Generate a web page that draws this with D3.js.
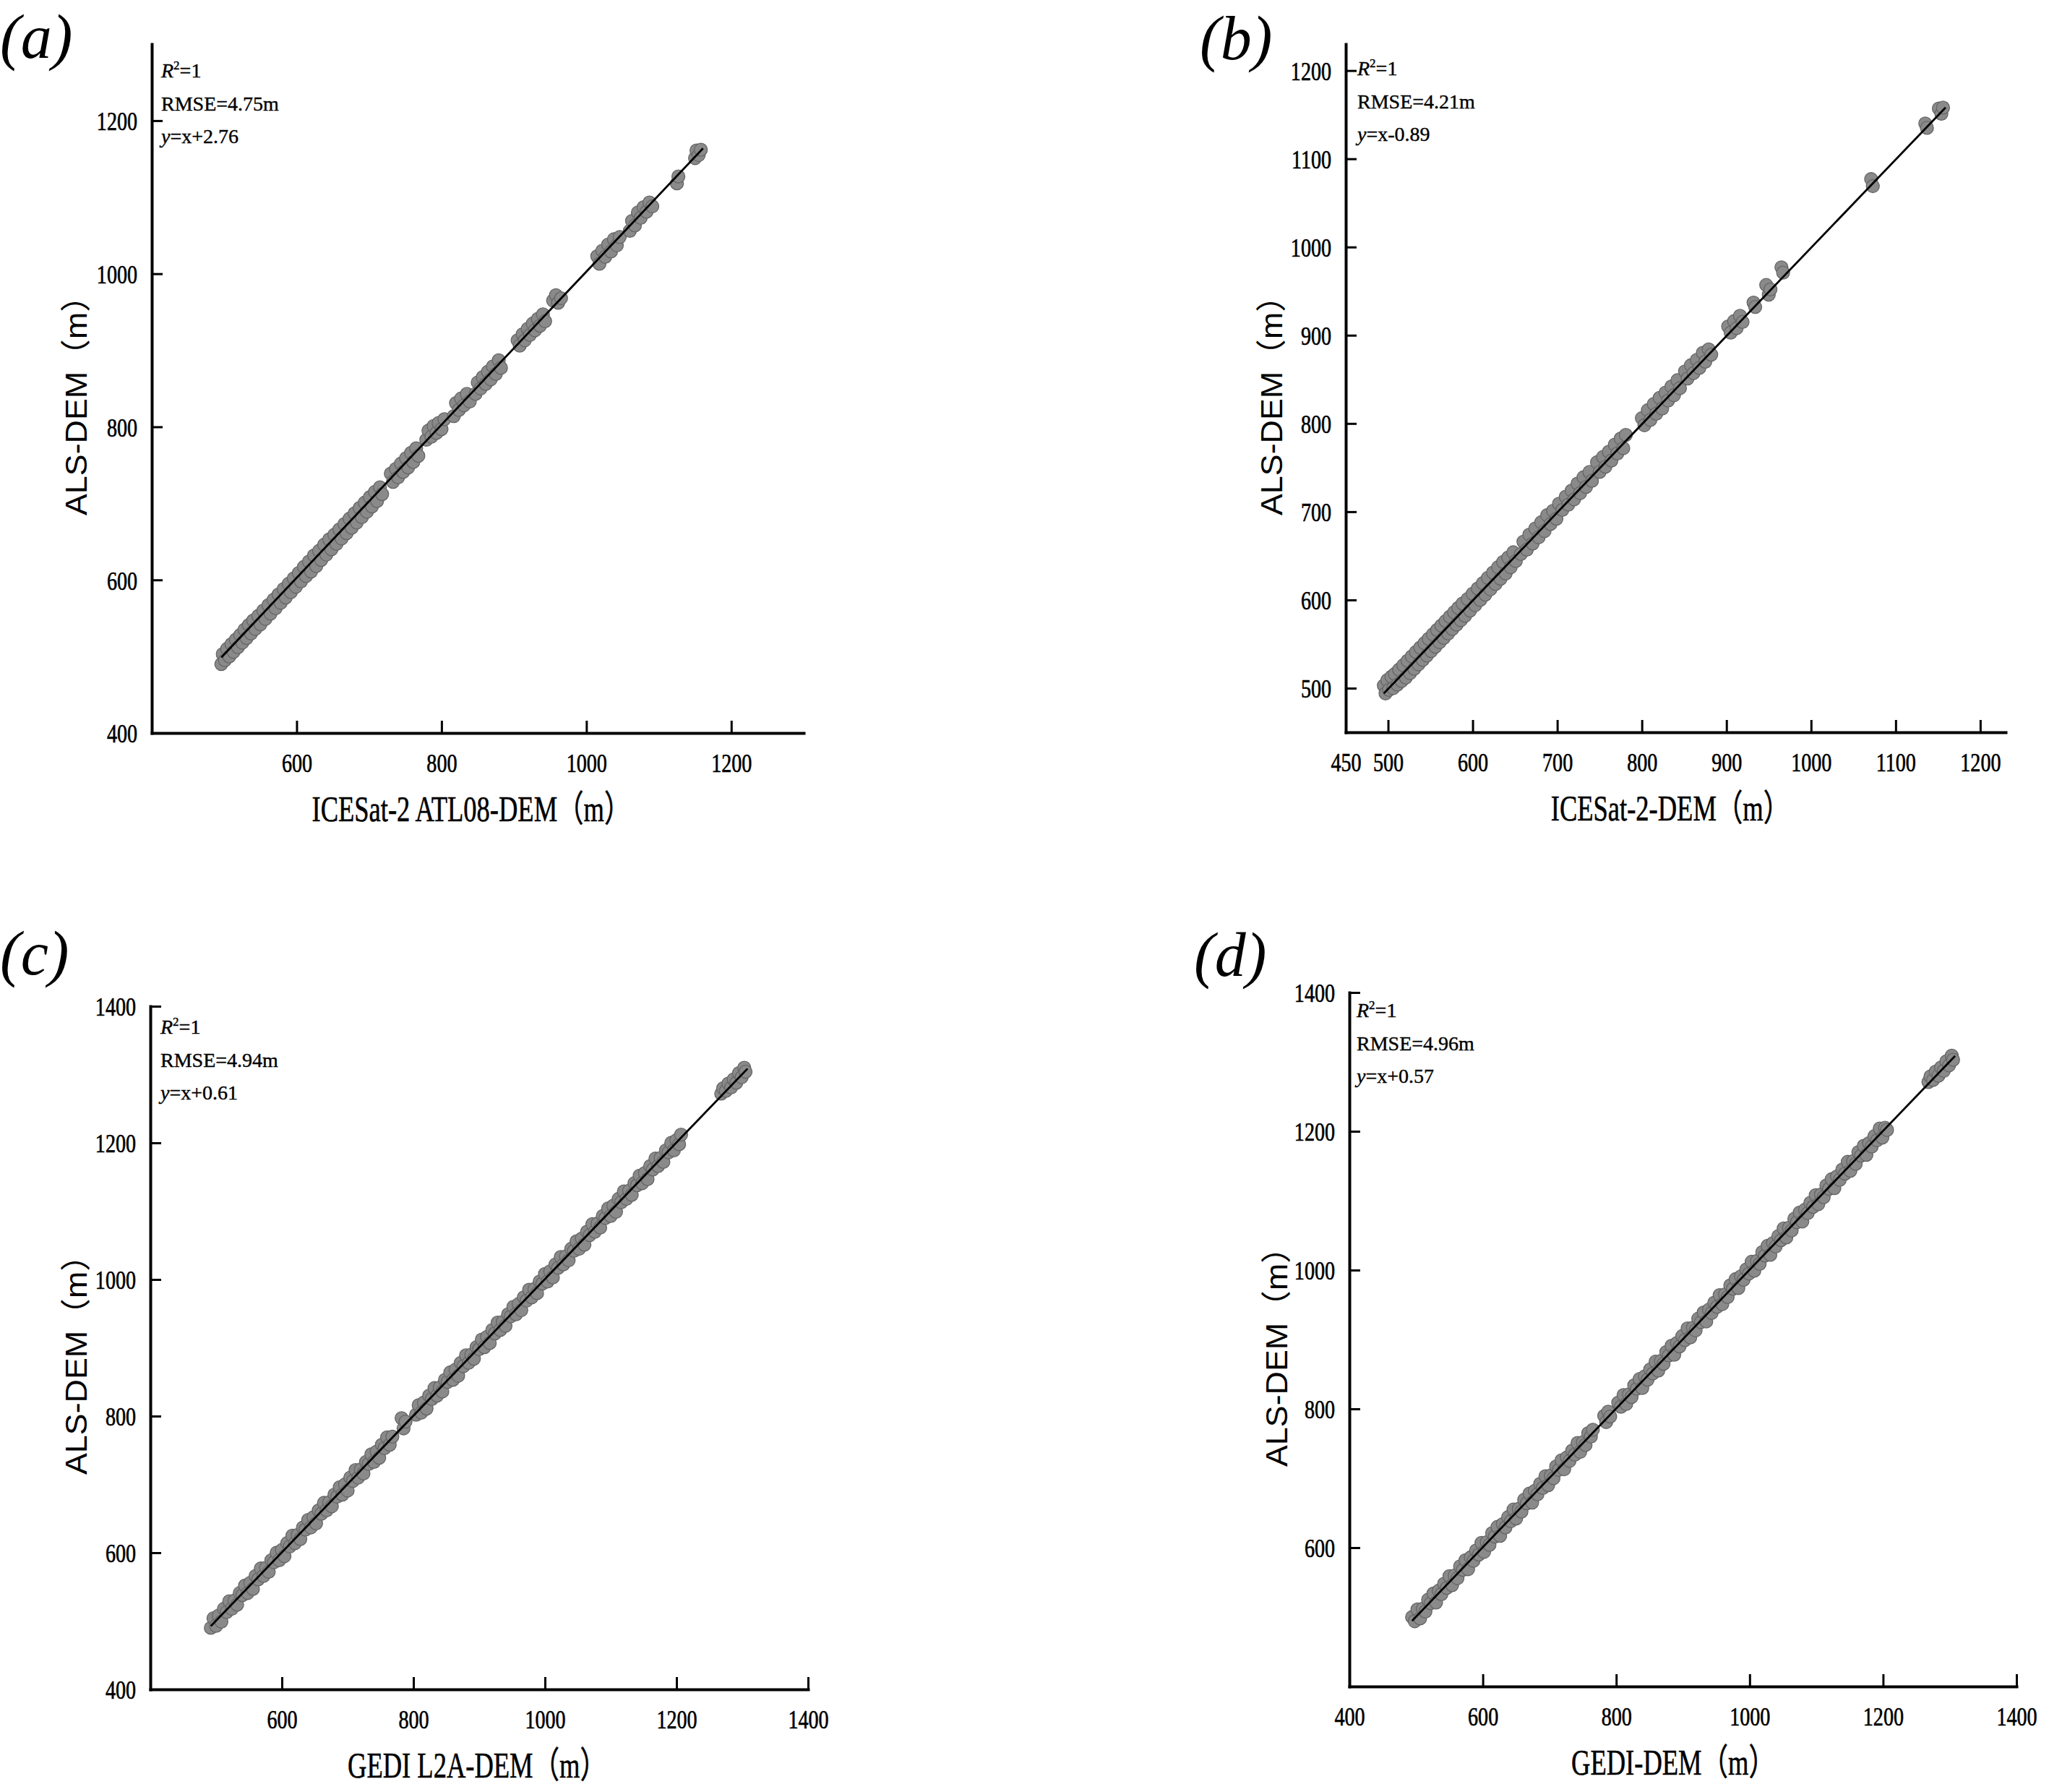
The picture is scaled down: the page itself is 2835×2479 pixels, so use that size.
<!DOCTYPE html>
<html><head><meta charset="utf-8">
<script src="https://cdn.jsdelivr.net/npm/d3@7/dist/d3.min.js"></script>
<style>body{margin:0;background:#fff}</style>
</head><body>
<svg id="chart" width="2835" height="2479"></svg>
<script>
// ---------- DATA ----------
const panelTags = ["(a)", "(b)", "(c)", "(d)"];
const xTitles = ["ICESat-2 ATL08-DEM（m）", "ICESat-2-DEM（m）", "GEDI L2A-DEM（m）", "GEDI-DEM（m）"];
const yTitles = ["ALS-DEM（m）", "ALS-DEM（m）", "ALS-DEM（m）", "ALS-DEM（m）"];
const r2Values = ["1", "1", "1", "1"];
const rmseValues = ["4.75", "4.21", "4.94", "4.96"];
const intercepts = [2.76, -0.89, 0.61, 0.57];

const aDomain = [400, 1300];
const bDomain = [450, 1230];
const cDomain = [400, 1400];
const dDomain = [400, 1400];

const aXTicks = [600, 800, 1000, 1200];
const aYTicks = [400, 600, 800, 1000, 1200];
const bXTicks = [450, 500, 600, 700, 800, 900, 1000, 1100, 1200];
const bYTicks = [500, 600, 700, 800, 900, 1000, 1100, 1200];
const cXTicks = [600, 800, 1000, 1200, 1400];
const cYTicks = [400, 600, 800, 1000, 1200, 1400];
const dXTicks = [400, 600, 800, 1000, 1200, 1400];
const dYTicks = [600, 800, 1000, 1200, 1400];

// [ICESat-2 / GEDI value, ALS value]
const aPoints = [[496,490],[498,503],[501,495],[504,510],[507,500],[510,516],[513,506],[516,522],[519,512],[522,528],[525,518],[528,535],[531,524],[534,541],[537,530],[540,547],[543,536],[547,553],[550,542],[554,560],[557,549],[561,567],[564,556],[568,574],[571,563],[575,581],[578,570],[582,588],[585,577],[589,595],[592,584],[596,602],[599,591],[603,609],[606,598],[610,617],[613,605],[617,624],[620,611],[624,632],[627,618],[631,638],[634,626],[638,646],[641,633],[645,653],[648,640],[652,659],[655,647],[659,666],[662,654],[666,673],[669,661],[673,680],[676,668],[680,687],[683,675],[687,694],[690,682],[694,701],[697,689],[701,708],[704,696],[708,715],[711,703],[715,721],[718,712],
[730,739],[733,728],[737,745],[740,734],[744,752],[747,741],[751,759],[754,747],[758,766],[761,754],[765,772],[768,762],
[779,783],[782,795],[786,787],[789,801],[793,792],[796,805],[800,797],[804,810],
[817,814],[820,831],[824,822],[827,837],[831,828],[835,843],[839,833],
[847,843],[850,858],[854,850],[857,865],[861,856],[864,872],[868,862],[871,879],[875,869],[879,887],[882,877],
[905,913],[908,906],[912,921],[915,913],[919,928],[922,920],[926,935],[929,926],[933,941],[936,932],[940,947],[943,938],
[954,965],[958,972],[961,962],[965,968],
[1015,1023],[1018,1013],[1022,1030],[1026,1022],[1030,1038],[1034,1029],[1038,1045],[1042,1037],[1046,1048],
[1060,1056],[1063,1069],[1067,1063],[1071,1080],[1075,1073],[1079,1087],[1083,1081],[1087,1093],[1091,1088],
[1125,1118],[1127,1127],[1150,1151],[1152,1161],[1155,1155],[1158,1162]];

const bPoints = [[495,503],[497,494],[499,509],[501,498],[504,513],[506,500],[508,516],[511,504],[513,521],[516,508],[518,526],[521,512],[523,531],[526,517],[528,536],[531,522],[533,541],[536,527],[538,546],[541,532],[543,551],[546,537],[548,556],[551,542],[553,561],[556,547],[558,566],[561,552],[563,571],[566,557],[568,576],[571,562],[573,581],[576,567],[578,586],[581,572],[583,591],[586,577],[588,596],[591,582],[594,601],[597,588],[600,607],[603,594],[606,613],[609,600],[612,619],[615,606],[618,625],[621,612],[624,631],[627,618],[630,637],[633,624],[636,643],[639,630],[642,648],[645,637],[648,654],[651,644],
[657,652],[660,666],[664,657],[667,674],[671,664],[674,681],[678,671],[681,688],[685,678],[688,696],[692,686],[695,701],[699,692],[702,709],
[706,702],[710,717],[713,708],[717,724],[720,714],[724,732],[727,721],[731,739],[734,728],[738,745],[741,735],
[747,756],[750,745],[754,762],[757,751],[761,768],[764,758],[768,776],[771,766],[775,783],[778,772],[781,787],
[800,806],[803,798],[807,815],[810,804],[814,822],[817,811],[821,829],[824,817],[828,835],[831,826],[835,842],[838,832],[842,849],[845,840],
[851,859],[854,851],[858,866],[861,857],[865,872],[868,863],[872,880],[875,870],[879,884],[882,878],
[902,910],[905,903],[909,916],[912,908],[916,922],[919,915],
[932,937],[934,932],[947,957],[950,946],[952,952],[965,977],[967,971],
[1071,1077],[1073,1069],[1135,1140],[1137,1135],[1151,1157],[1154,1151],[1156,1158]];

const cPoints = [[492,490],[496,504],[500,493],[504,508],[508,499],[512,518],[516,513],[520,529],[524,518],[528,530],[532,524],[536,541],[540,538],[544,552],[548,541],[552,556],[556,547],[560,566],[564,561],[568,577],[572,566],[576,578],[580,572],[584,589],[588,586],[592,600],[596,589],[600,604],[604,595],[608,614],[612,609],[616,625],[620,614],[624,626],[628,620],[632,637],[636,634],[640,648],[644,637],[648,652],[652,643],[656,662],[660,657],[664,673],[668,662],[672,674],[676,668],[680,685],[684,682],[688,696],[692,685],[696,700],[700,691],[704,710],[708,705],[712,721],[716,710],[720,722],[724,716],[728,733],[732,730],[736,744],[740,733],[744,748],[748,739],[752,758],[756,753],[760,769],[764,758],[768,770],
[782,797],[785,782],[788,792],
[804,802],[808,816],[812,805],[816,820],[820,811],[824,830],[828,825],[832,841],[836,830],[840,842],[844,836],[848,853],[852,850],[856,864],[860,853],[864,868],[868,859],[872,878],[876,873],[880,889],[884,878],[888,890],[892,884],[896,901],[900,898],[904,912],[908,901],[912,916],[916,907],[920,926],[924,921],[928,937],[932,926],[936,938],[940,932],[944,949],[948,946],[952,960],[956,949],[960,964],[964,955],[968,974],[972,969],[976,985],[980,974],[984,986],[988,980],[992,997],[996,994],[1000,1008],[1004,997],[1008,1012],[1012,1003],[1016,1022],[1020,1017],[1024,1033],[1028,1022],[1032,1034],[1036,1028],[1040,1045],[1044,1042],[1048,1056],[1052,1045],[1056,1060],[1060,1051],[1064,1070],[1068,1065],[1072,1081],[1076,1070],[1080,1082],[1084,1076],[1088,1093],[1092,1090],[1096,1104],[1100,1093],[1104,1108],[1108,1099],[1112,1118],[1116,1113],[1120,1129],[1124,1118],[1128,1130],[1132,1124],[1136,1141],[1140,1138],[1144,1152],[1148,1141],[1152,1156],[1156,1147],[1160,1166],[1164,1161],[1168,1177],[1172,1166],[1176,1178],[1180,1172],[1184,1189],[1188,1186],[1192,1200],[1196,1189],[1200,1204],[1204,1198],[1207,1212],
[1268,1272],[1271,1280],[1275,1276],[1279,1287],[1283,1281],[1287,1293],[1291,1288],[1295,1302],[1299,1296],[1303,1310],[1305,1304]];

const dPoints = [[494,500],[498,494],[502,511],[506,498],[510,512],[514,508],[518,525],[522,520],[526,534],[530,521],[534,538],[538,533],[542,548],[546,542],[550,559],[554,546],[558,560],[562,556],[566,573],[570,568],[574,582],[578,569],[582,586],[586,581],[590,596],[594,590],[598,607],[602,594],[606,608],[610,604],[614,621],[618,616],[622,630],[626,617],[630,634],[634,629],[638,644],[642,638],[646,655],[650,642],[654,656],[658,652],[662,669],[666,664],[670,678],[674,665],[678,682],[682,677],[686,692],[690,686],[694,703],[698,690],[702,704],[706,700],[710,717],[714,712],[718,726],[722,713],[726,730],[730,725],[734,740],[738,734],[742,751],[746,738],[750,752],[754,748],[758,765],[762,760],[765,770],
[782,790],[785,781],[788,796],[791,789],
[803,809],[807,803],[811,820],[815,807],[819,821],[823,817],[827,834],[831,829],[835,843],[839,830],[843,847],[847,842],[851,857],[855,851],[859,868],[863,855],[867,869],[871,865],[875,882],[879,877],[883,891],[887,878],[891,895],[895,890],[899,905],[903,899],[907,916],[911,903],[915,917],[919,913],[923,930],[927,925],[931,939],[935,926],[939,943],[943,938],[947,953],[951,947],[955,964],[959,951],[963,965],[967,961],[971,978],[975,973],[979,987],[983,974],[987,991],[991,986],[995,1001],[999,995],[1003,1012],[1007,999],[1011,1013],[1015,1009],[1019,1026],[1023,1021],[1027,1035],[1031,1022],[1035,1039],[1039,1034],[1043,1049],[1047,1043],[1051,1060],[1055,1047],[1059,1061],[1063,1057],[1067,1074],[1071,1069],[1075,1083],[1079,1070],[1083,1087],[1087,1082],[1091,1097],[1095,1091],[1099,1108],[1103,1095],[1107,1109],[1111,1105],[1115,1122],[1119,1117],[1123,1131],[1127,1118],[1131,1135],[1135,1130],[1139,1145],[1143,1139],[1147,1156],[1151,1143],[1155,1157],[1159,1153],[1163,1170],[1167,1165],[1171,1179],[1175,1166],[1179,1183],[1183,1178],[1187,1193],[1191,1187],[1195,1204],[1199,1191],[1203,1205],[1206,1202],
[1268,1271],[1271,1279],[1275,1274],[1279,1286],[1283,1280],[1287,1292],[1291,1287],[1295,1301],[1299,1295],[1303,1309],[1305,1303]];

// ---------- LAYOUT ----------
const layout = [
  {pts:aPoints, dom:aDomain, xt:aXTicks, yt:aYTicks, L:210, R:1112, T:61, B:1014, tag:[0,80], ann:[223,107], yl:[105,550], xl:[652,1136]},
  {pts:bPoints, dom:bDomain, xt:bXTicks, yt:bYTicks, L:1862, R:2775, T:61, B:1013, tag:[1660,82], ann:[1878,104], yl:[1759,550], xl:[2311,1135]},
  {pts:cPoints, dom:cDomain, xt:cXTicks, yt:cYTicks, L:208, R:1118, T:1392, B:2337, tag:[0,1348], ann:[222,1430], yl:[105,1877], xl:[660,2459]},
  {pts:dPoints, dom:dDomain, xt:dXTicks, yt:dYTicks, L:1867, R:2790, T:1373, B:2333, tag:[1652,1350], ann:[1877,1407], yl:[1766,1866], xl:[2315,2455]}
];

const SERIF = "'Liberation Serif','Times New Roman','Noto Sans CJK SC',serif";
const SANS = "'Liberation Sans',Arial,'Noto Sans CJK SC',sans-serif";

const svg = d3.select("#chart");
svg.append("rect").attr("width", 2835).attr("height", 2479).attr("fill", "#fff");

layout.forEach((p, i) => {
  const x = d3.scaleLinear().domain(p.dom).range([p.L, p.R]);
  const y = d3.scaleLinear().domain(p.dom).range([p.B, p.T]);
  const g = svg.append("g");

  // points
  g.append("g").selectAll("circle").data(p.pts).join("circle")
    .attr("cx", d => x(d[0])).attr("cy", d => y(d[1])).attr("r", 9)
    .attr("fill", "#8a8a8a").attr("stroke", "#666").attr("stroke-width", 1.3);

  // regression line y = x + b
  const xs = d3.extent(p.pts, d => d[0]);
  const b = intercepts[i];
  g.append("line")
    .attr("x1", x(xs[0])).attr("y1", y(xs[0] + b))
    .attr("x2", x(xs[1] + 3)).attr("y2", y(xs[1] + 3 + b))
    .attr("stroke", "#000").attr("stroke-width", 2.8);

  // axes
  const xa = g.append("g").attr("transform", `translate(0,${p.B})`)
    .call(d3.axisBottom(x).tickValues(p.xt).tickSizeInner(-17).tickSizeOuter(0).tickPadding(28).tickFormat(d3.format("d")));
  const ya = g.append("g").attr("transform", `translate(${p.L},0)`)
    .call(d3.axisLeft(y).tickValues(p.yt).tickSizeInner(-15).tickSizeOuter(0).tickPadding(20).tickFormat(d3.format("d")));
  [xa, ya].forEach(a => {
    a.select(".domain").attr("stroke", "#000").attr("stroke-width", 4).attr("stroke-linecap", "square");
    a.selectAll(".tick line").attr("stroke", "#000").attr("stroke-width", 3);
    a.selectAll(".tick text").attr("fill", "#000").attr("stroke", "#000").attr("stroke-width", 0.7)
      .attr("font-family", SERIF).attr("font-size", 36).classed("cond78", true);
  });
  ya.selectAll(".tick text").attr("dy", "0.36em");

  // panel tag
  svg.append("text").attr("x", p.tag[0]).attr("y", p.tag[1])
    .attr("font-family", SERIF).attr("font-style", "italic").attr("font-size", 86).attr("fill", "#000")
    .text(panelTags[i]);

  // annotation
  const ax = p.ann[0], ay = p.ann[1];
  const t1 = svg.append("text").attr("x", ax).attr("y", ay).attr("font-family", SERIF).attr("font-size", 28).attr("fill", "#000").attr("stroke", "#000").attr("stroke-width", 0.4);
  t1.append("tspan").attr("font-style", "italic").text("R");
  t1.append("tspan").attr("font-size", 17).attr("dy", -11).text("2");
  t1.append("tspan").attr("dy", 11).text("=" + r2Values[i]);
  svg.append("text").attr("x", ax).attr("y", ay + 46).attr("font-family", SERIF).attr("font-size", 28).attr("fill", "#000").attr("stroke", "#000").attr("stroke-width", 0.4)
    .text("RMSE=" + rmseValues[i] + "m");
  const t3 = svg.append("text").attr("x", ax).attr("y", ay + 91).attr("font-family", SERIF).attr("font-size", 28).attr("fill", "#000").attr("stroke", "#000").attr("stroke-width", 0.4);
  t3.append("tspan").attr("font-style", "italic").text("y");
  t3.append("tspan").text("=x" + (b >= 0 ? "+" : "-") + Math.abs(b).toFixed(2));

  // axis titles
  svg.append("text").attr("x", p.xl[0]).attr("y", p.xl[1]).attr("text-anchor", "middle")
    .attr("font-family", SERIF).attr("font-size", 50).attr("fill", "#000").attr("stroke", "#000").attr("stroke-width", 0.6)
    .classed("cond73", true)
    .text(xTitles[i]);
  svg.append("text").attr("transform", `translate(${p.yl[0]},${p.yl[1]}) rotate(-90)`)
    .attr("text-anchor", "middle").attr("dy", "0.35em")
    .attr("font-family", SANS).attr("font-size", 42).attr("fill", "#000")
    .attr("textLength", 326).attr("lengthAdjust", "spacingAndGlyphs")
    .text(yTitles[i]);
});

// condensed serif text (the original typeface is narrow)
function condense(sel, f) {
  svg.selectAll(sel).each(function () {
    const l = this.getComputedTextLength();
    d3.select(this).attr("textLength", l * f).attr("lengthAdjust", "spacingAndGlyphs");
  });
}
condense("text.cond78", 0.78);
condense("text.cond73", 0.73);
</script>
</body></html>
